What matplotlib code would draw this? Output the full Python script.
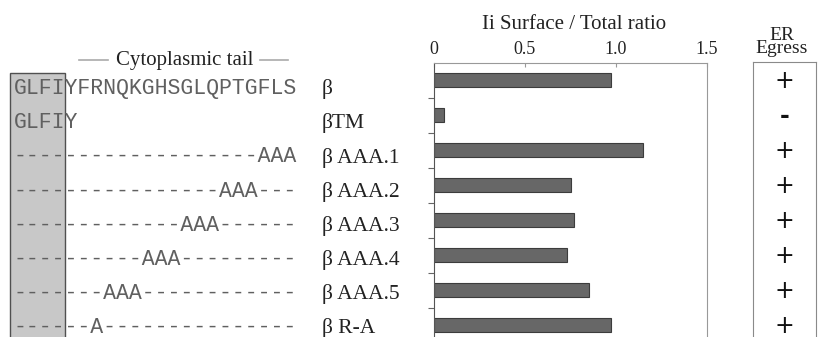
import matplotlib
matplotlib.use('Agg')
import matplotlib.pyplot as plt
from matplotlib.patches import Rectangle

# ---------------------------------------------------------------------------
# data
rows = ['β', 'βTM', 'β AAA.1', 'β AAA.2', 'β AAA.3', 'β AAA.4', 'β AAA.5', 'β R-A']
sequences = [
    'GLFIYFRNQKGHSGLQPTGFLS',
    'GLFIY',
    '-' * 19 + 'AAA',
    '-' * 16 + 'AAA' + '-' * 3,
    '-' * 13 + 'AAA' + '-' * 6,
    '-' * 10 + 'AAA' + '-' * 9,
    '-' * 7 + 'AAA' + '-' * 12,
    '-' * 6 + 'A' + '-' * 15,
]
ratio = [0.97, 0.055, 1.15, 0.75, 0.77, 0.73, 0.85, 0.97]
egress = ['+', '-', '+', '+', '+', '+', '+', '+']
xticks = [0, 0.5, 1.0, 1.5]
xticklabels = ['0', '0.5', '1.0', '1.5']

# ---------------------------------------------------------------------------
plt.rcParams['font.family'] = ['Liberation Serif', 'DejaVu Serif']

W, H = 823, 337
fig = plt.figure(figsize=(W / 100, H / 100), dpi=100)


def fx(px):
    return px / W


def fy(py):
    return 1 - py / H


# overlay in pixel coordinates for the sequence part
ov = fig.add_axes([0, 0, 1, 1])
ov.set_xlim(0, W)
ov.set_ylim(H, 0)
ov.axis('off')
ov.add_patch(Rectangle((10, 73.3), 55, 300, facecolor='#c8c8c8',
                       edgecolor='#505050', linewidth=1))
row_base, row_step = 94.3, 34.1
for i, (seq, lab) in enumerate(zip(sequences, rows)):
    yb = row_base + i * row_step
    ov.text(13.5, yb, seq, family='Liberation Mono', fontsize=15.5,
            color='#606060', va='baseline', ha='left')
    ov.text(322, yb, lab, fontsize=15.5, color='#222222', va='baseline', ha='left')
ov.text(185, 65, 'Cytoplasmic tail', fontsize=15, color='#222222',
        ha='center', va='baseline')
ov.plot([79, 108], [60, 60], color='#aaaaaa', lw=1.2)
ov.plot([260, 288], [60, 60], color='#aaaaaa', lw=1.2)

# bar chart
ax = fig.add_axes([fx(434), fy(342.5), fx(707) - fx(434), fy(62.5) - fy(342.5)])
ax.patch.set_alpha(0)
y = list(range(len(rows)))
ax.barh(y, ratio, height=0.4, color='#676767', edgecolor='#3c3c3c', linewidth=0.8)
ax.set_xlim(0, 1.5)
ax.set_ylim(len(rows) - 0.5, -0.5)
ax.xaxis.tick_top()
ax.set_xticks(xticks)
ax.set_xticklabels(xticklabels)
ax.tick_params(axis='x', direction='in', length=3, color='#999999', pad=3.5,
               labelsize=13, labelcolor='#222222')
ax.set_yticks([i + 0.5 for i in range(len(rows) - 1)])
ax.set_yticklabels([])
ax.tick_params(axis='y', direction='out', length=4, color='#666666', width=0.8)
ax.spines['top'].set_color('#999999')
ax.spines['right'].set_color('#999999')
ax.spines['left'].set_color('#555555')
ax.spines['bottom'].set_visible(False)
fig.text(fx(574), fy(29.3), 'Ii Surface / Total ratio', fontsize=15,
         color='#222222', ha='center', va='baseline')

# ER egress column
ax2 = fig.add_axes([fx(753), fy(342.5), fx(816) - fx(753), fy(62.3) - fy(342.5)])
ax2.patch.set_alpha(0)
ax2.set_xlim(0, 1)
ax2.set_ylim(len(rows) - 0.5, -0.5)
ax2.set_xticks([])
ax2.set_yticks([])
for s in ['top', 'left', 'right']:
    ax2.spines[s].set_color('#8a8a8a')
ax2.spines['bottom'].set_visible(False)
for i, e in enumerate(egress):
    ax2.text(0.5, i + 0.02, e, family='DejaVu Sans', fontsize=17,
             fontweight='bold' if e == '-' else 'normal',
             color='#111111', ha='center', va='center')
fig.text(fx(782), fy(53.3), 'ER\nEgress', fontsize=14, color='#222222',
         ha='center', va='baseline', linespacing=0.68)

fig.savefig('out.png', dpi=100)
